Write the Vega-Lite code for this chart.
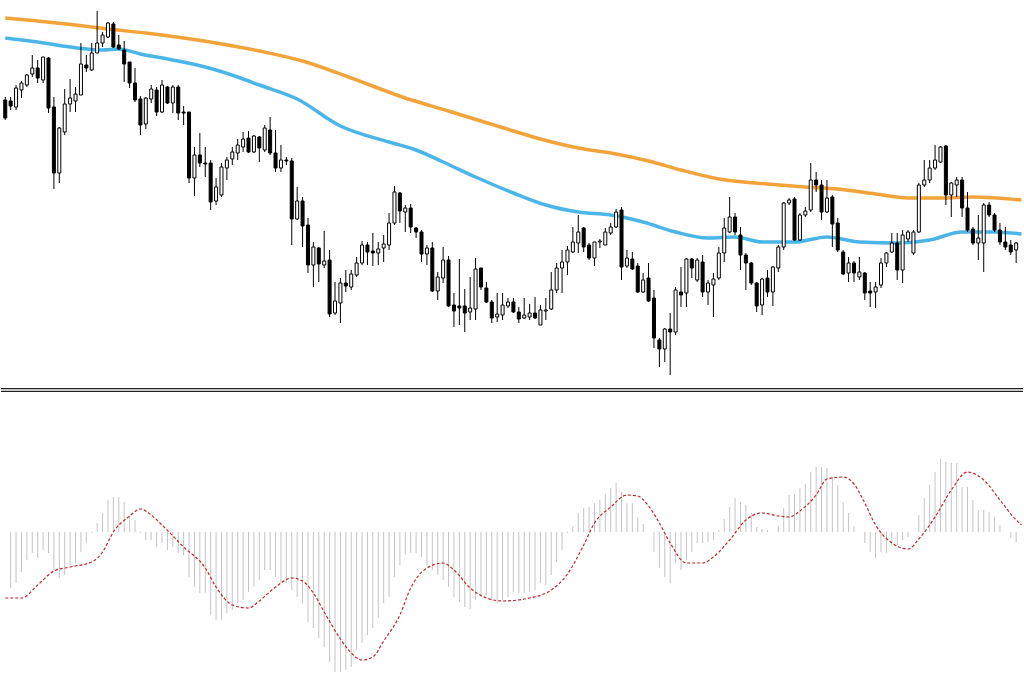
{
"$schema":"https://vega.github.io/schema/vega-lite/v6.json",
"width":1024,"height":683,"padding":0,
"autosize":{"type":"fit","contains":"padding"},
"background":"#ffffff",
"config":{"view":{"stroke":null}},
"datasets":{
"candles":[
{"i":-1,"o":1.1900,"h":1.1903,"l":1.1880,"c":1.1882},
{"i":0,"o":1.1899,"h":1.1903,"l":1.1890,"c":1.1894},
{"i":1,"o":1.1893,"h":1.1915,"l":1.1890,"c":1.1912},
{"i":2,"o":1.1910,"h":1.1919,"l":1.1902,"c":1.1917},
{"i":3,"o":1.1915,"h":1.1926,"l":1.1913,"c":1.1925},
{"i":4,"o":1.1926,"h":1.1945,"l":1.1923,"c":1.1932},
{"i":5,"o":1.1932,"h":1.1940,"l":1.1917,"c":1.1922},
{"i":6,"o":1.1920,"h":1.1943,"l":1.1917,"c":1.1943},
{"i":7,"o":1.1942,"h":1.1943,"l":1.1887,"c":1.1892},
{"i":8,"o":1.1893,"h":1.1903,"l":1.1811,"c":1.1827},
{"i":9,"o":1.1827,"h":1.1873,"l":1.1817,"c":1.1872},
{"i":10,"o":1.1868,"h":1.1911,"l":1.1865,"c":1.1896},
{"i":11,"o":1.1896,"h":1.1921,"l":1.1888,"c":1.1902},
{"i":12,"o":1.1899,"h":1.1913,"l":1.1888,"c":1.1906},
{"i":13,"o":1.1905,"h":1.1957,"l":1.1905,"c":1.1936},
{"i":14,"o":1.1935,"h":1.1945,"l":1.1928,"c":1.1932},
{"i":15,"o":1.1930,"h":1.1957,"l":1.1929,"c":1.1947},
{"i":16,"o":1.1947,"h":1.1989,"l":1.1947,"c":1.1957},
{"i":17,"o":1.1957,"h":1.1968,"l":1.1953,"c":1.1965},
{"i":18,"o":1.1963,"h":1.1978,"l":1.1962,"c":1.1977},
{"i":19,"o":1.1976,"h":1.1978,"l":1.1952,"c":1.1953},
{"i":20,"o":1.1955,"h":1.1965,"l":1.1950,"c":1.1951},
{"i":21,"o":1.1950,"h":1.1959,"l":1.1918,"c":1.1936},
{"i":22,"o":1.1938,"h":1.1938,"l":1.1912,"c":1.1917},
{"i":23,"o":1.1917,"h":1.1932,"l":1.1898,"c":1.1900},
{"i":24,"o":1.1901,"h":1.1904,"l":1.1865,"c":1.1875},
{"i":25,"o":1.1876,"h":1.1903,"l":1.1871,"c":1.1902},
{"i":26,"o":1.1901,"h":1.1915,"l":1.1897,"c":1.1911},
{"i":27,"o":1.1910,"h":1.1913,"l":1.1884,"c":1.1888},
{"i":28,"o":1.1888,"h":1.1920,"l":1.1887,"c":1.1915},
{"i":29,"o":1.1913,"h":1.1914,"l":1.1896,"c":1.1897},
{"i":30,"o":1.1897,"h":1.1915,"l":1.1887,"c":1.1913},
{"i":31,"o":1.1913,"h":1.1915,"l":1.1880,"c":1.1887},
{"i":32,"o":1.1888,"h":1.1894,"l":1.1875,"c":1.1887},
{"i":33,"o":1.1888,"h":1.1888,"l":1.1817,"c":1.1822},
{"i":34,"o":1.1822,"h":1.1853,"l":1.1804,"c":1.1845},
{"i":35,"o":1.1845,"h":1.1867,"l":1.1833,"c":1.1837},
{"i":36,"o":1.1837,"h":1.1853,"l":1.1823,"c":1.1836},
{"i":37,"o":1.1837,"h":1.1840,"l":1.1790,"c":1.1798},
{"i":38,"o":1.1799,"h":1.1822,"l":1.1795,"c":1.1813},
{"i":39,"o":1.1805,"h":1.1837,"l":1.1803,"c":1.1833},
{"i":40,"o":1.1832,"h":1.1843,"l":1.1820,"c":1.1840},
{"i":41,"o":1.1841,"h":1.1853,"l":1.1835,"c":1.1848},
{"i":42,"o":1.1847,"h":1.1861,"l":1.1840,"c":1.1855},
{"i":43,"o":1.1853,"h":1.1868,"l":1.1848,"c":1.1861},
{"i":44,"o":1.1862,"h":1.1869,"l":1.1847,"c":1.1848},
{"i":45,"o":1.1848,"h":1.1865,"l":1.1847,"c":1.1864},
{"i":46,"o":1.1863,"h":1.1864,"l":1.1838,"c":1.1852},
{"i":47,"o":1.1850,"h":1.1875,"l":1.1848,"c":1.1872},
{"i":48,"o":1.1870,"h":1.1883,"l":1.1845,"c":1.1847},
{"i":49,"o":1.1847,"h":1.1870,"l":1.1828,"c":1.1832},
{"i":50,"o":1.1832,"h":1.1855,"l":1.1828,"c":1.1840},
{"i":51,"o":1.1840,"h":1.1843,"l":1.1835,"c":1.1839},
{"i":52,"o":1.1839,"h":1.1842,"l":1.1755,"c":1.1781},
{"i":53,"o":1.1781,"h":1.1813,"l":1.1780,"c":1.1799},
{"i":54,"o":1.1799,"h":1.1803,"l":1.1753,"c":1.1774},
{"i":55,"o":1.1775,"h":1.1782,"l":1.1727,"c":1.1735},
{"i":56,"o":1.1735,"h":1.1758,"l":1.1713,"c":1.1753},
{"i":57,"o":1.1752,"h":1.1753,"l":1.1718,"c":1.1736},
{"i":58,"o":1.1735,"h":1.1769,"l":1.1732,"c":1.1739},
{"i":59,"o":1.1740,"h":1.1750,"l":1.1683,"c":1.1686},
{"i":60,"o":1.1687,"h":1.1718,"l":1.1685,"c":1.1699},
{"i":61,"o":1.1697,"h":1.1722,"l":1.1677,"c":1.1717},
{"i":62,"o":1.1717,"h":1.1730,"l":1.1708,"c":1.1714},
{"i":63,"o":1.1713,"h":1.1730,"l":1.1710,"c":1.1726},
{"i":64,"o":1.1725,"h":1.1743,"l":1.1723,"c":1.1737},
{"i":65,"o":1.1737,"h":1.1759,"l":1.1735,"c":1.1755},
{"i":66,"o":1.1755,"h":1.1758,"l":1.1735,"c":1.1748},
{"i":67,"o":1.1749,"h":1.1767,"l":1.1734,"c":1.1747},
{"i":68,"o":1.1747,"h":1.1758,"l":1.1735,"c":1.1751},
{"i":69,"o":1.1752,"h":1.1765,"l":1.1738,"c":1.1756},
{"i":70,"o":1.1755,"h":1.1787,"l":1.1750,"c":1.1777},
{"i":71,"o":1.1777,"h":1.1814,"l":1.1775,"c":1.1808},
{"i":72,"o":1.1807,"h":1.1808,"l":1.1777,"c":1.1789},
{"i":73,"o":1.1788,"h":1.1795,"l":1.1768,"c":1.1792},
{"i":74,"o":1.1792,"h":1.1796,"l":1.1767,"c":1.1773},
{"i":75,"o":1.1772,"h":1.1773,"l":1.1762,"c":1.1768},
{"i":76,"o":1.1768,"h":1.1770,"l":1.1738,"c":1.1746},
{"i":77,"o":1.1746,"h":1.1755,"l":1.1735,"c":1.1752},
{"i":78,"o":1.1752,"h":1.1758,"l":1.1708,"c":1.1709},
{"i":79,"o":1.1709,"h":1.1728,"l":1.1700,"c":1.1723},
{"i":80,"o":1.1722,"h":1.1753,"l":1.1717,"c":1.1740},
{"i":81,"o":1.1740,"h":1.1744,"l":1.1693,"c":1.1694},
{"i":82,"o":1.1695,"h":1.1707,"l":1.1673,"c":1.1689},
{"i":83,"o":1.1694,"h":1.1741,"l":1.1675,"c":1.1692},
{"i":84,"o":1.1694,"h":1.1711,"l":1.1668,"c":1.1687},
{"i":85,"o":1.1688,"h":1.1723,"l":1.1680,"c":1.1692},
{"i":86,"o":1.1691,"h":1.1742,"l":1.1680,"c":1.1731},
{"i":87,"o":1.1732,"h":1.1732,"l":1.1710,"c":1.1713},
{"i":88,"o":1.1712,"h":1.1718,"l":1.1697,"c":1.1698},
{"i":89,"o":1.1698,"h":1.1700,"l":1.1677,"c":1.1682},
{"i":90,"o":1.1683,"h":1.1707,"l":1.1678,"c":1.1686},
{"i":91,"o":1.1685,"h":1.1707,"l":1.1680,"c":1.1695},
{"i":92,"o":1.1694,"h":1.1702,"l":1.1692,"c":1.1698},
{"i":93,"o":1.1698,"h":1.1702,"l":1.1687,"c":1.1688},
{"i":94,"o":1.1688,"h":1.1693,"l":1.1677,"c":1.1681},
{"i":95,"o":1.1682,"h":1.1702,"l":1.1681,"c":1.1685},
{"i":96,"o":1.1683,"h":1.1696,"l":1.1680,"c":1.1687},
{"i":97,"o":1.1687,"h":1.1703,"l":1.1681,"c":1.1682},
{"i":98,"o":1.1675,"h":1.1695,"l":1.1675,"c":1.1690},
{"i":99,"o":1.1689,"h":1.1702,"l":1.1680,"c":1.1690},
{"i":100,"o":1.1691,"h":1.1728,"l":1.1690,"c":1.1710},
{"i":101,"o":1.1710,"h":1.1737,"l":1.1707,"c":1.1732},
{"i":102,"o":1.1732,"h":1.1750,"l":1.1707,"c":1.1738},
{"i":103,"o":1.1738,"h":1.1754,"l":1.1725,"c":1.1750},
{"i":104,"o":1.1748,"h":1.1773,"l":1.1747,"c":1.1758},
{"i":105,"o":1.1757,"h":1.1785,"l":1.1747,"c":1.1768},
{"i":106,"o":1.1772,"h":1.1773,"l":1.1748,"c":1.1753},
{"i":107,"o":1.1755,"h":1.1757,"l":1.1740,"c":1.1742},
{"i":108,"o":1.1742,"h":1.1758,"l":1.1734,"c":1.1758},
{"i":109,"o":1.1758,"h":1.1761,"l":1.1752,"c":1.1759},
{"i":110,"o":1.1755,"h":1.1772,"l":1.1755,"c":1.1768},
{"i":111,"o":1.1767,"h":1.1777,"l":1.1765,"c":1.1773},
{"i":112,"o":1.1773,"h":1.1791,"l":1.1772,"c":1.1788},
{"i":113,"o":1.1790,"h":1.1793,"l":1.1720,"c":1.1733},
{"i":114,"o":1.1734,"h":1.1750,"l":1.1732,"c":1.1742},
{"i":115,"o":1.1741,"h":1.1748,"l":1.1730,"c":1.1731},
{"i":116,"o":1.1734,"h":1.1737,"l":1.1707,"c":1.1708},
{"i":117,"o":1.1708,"h":1.1727,"l":1.1707,"c":1.1720},
{"i":118,"o":1.1722,"h":1.1737,"l":1.1698,"c":1.1699},
{"i":119,"o":1.1702,"h":1.1710,"l":1.1652,"c":1.1662},
{"i":120,"o":1.1660,"h":1.1662,"l":1.1633,"c":1.1651},
{"i":121,"o":1.1651,"h":1.1672,"l":1.1638,"c":1.1671},
{"i":122,"o":1.1671,"h":1.1687,"l":1.1625,"c":1.1668},
{"i":123,"o":1.1668,"h":1.1713,"l":1.1665,"c":1.1710},
{"i":124,"o":1.1708,"h":1.1733,"l":1.1693,"c":1.1705},
{"i":125,"o":1.1707,"h":1.1742,"l":1.1693,"c":1.1741},
{"i":126,"o":1.1741,"h":1.1742,"l":1.1722,"c":1.1732},
{"i":127,"o":1.1720,"h":1.1742,"l":1.1718,"c":1.1740},
{"i":128,"o":1.1738,"h":1.1745,"l":1.1703,"c":1.1708},
{"i":129,"o":1.1708,"h":1.1720,"l":1.1695,"c":1.1717},
{"i":130,"o":1.1715,"h":1.1727,"l":1.1683,"c":1.1721},
{"i":131,"o":1.1722,"h":1.1753,"l":1.1720,"c":1.1747},
{"i":132,"o":1.1747,"h":1.1782,"l":1.1738,"c":1.1772},
{"i":133,"o":1.1768,"h":1.1803,"l":1.1767,"c":1.1783},
{"i":134,"o":1.1783,"h":1.1787,"l":1.1765,"c":1.1768},
{"i":135,"o":1.1765,"h":1.1773,"l":1.1730,"c":1.1745},
{"i":136,"o":1.1745,"h":1.1747,"l":1.1710,"c":1.1737},
{"i":137,"o":1.1737,"h":1.1738,"l":1.1715,"c":1.1717},
{"i":138,"o":1.1717,"h":1.1718,"l":1.1688,"c":1.1694},
{"i":139,"o":1.1695,"h":1.1722,"l":1.1685,"c":1.1721},
{"i":140,"o":1.1722,"h":1.1730,"l":1.1703,"c":1.1708},
{"i":141,"o":1.1708,"h":1.1734,"l":1.1694,"c":1.1733},
{"i":142,"o":1.1732,"h":1.1755,"l":1.1728,"c":1.1753},
{"i":143,"o":1.1753,"h":1.1798,"l":1.1750,"c":1.1797},
{"i":144,"o":1.1797,"h":1.1802,"l":1.1795,"c":1.1800},
{"i":145,"o":1.1801,"h":1.1803,"l":1.1759,"c":1.1760},
{"i":146,"o":1.1760,"h":1.1787,"l":1.1759,"c":1.1785},
{"i":147,"o":1.1785,"h":1.1793,"l":1.1783,"c":1.1789},
{"i":148,"o":1.1790,"h":1.1837,"l":1.1788,"c":1.1820},
{"i":149,"o":1.1820,"h":1.1828,"l":1.1808,"c":1.1815},
{"i":150,"o":1.1815,"h":1.1820,"l":1.1780,"c":1.1788},
{"i":151,"o":1.1788,"h":1.1820,"l":1.1787,"c":1.1802},
{"i":152,"o":1.1803,"h":1.1805,"l":1.1753,"c":1.1776},
{"i":153,"o":1.1777,"h":1.1782,"l":1.1748,"c":1.1750},
{"i":154,"o":1.1748,"h":1.1750,"l":1.1725,"c":1.1726},
{"i":155,"o":1.1727,"h":1.1743,"l":1.1718,"c":1.1737},
{"i":156,"o":1.1737,"h":1.1739,"l":1.1718,"c":1.1727},
{"i":157,"o":1.1723,"h":1.1743,"l":1.1720,"c":1.1728},
{"i":158,"o":1.1727,"h":1.1728,"l":1.1700,"c":1.1707},
{"i":159,"o":1.1709,"h":1.1718,"l":1.1693,"c":1.1707},
{"i":160,"o":1.1708,"h":1.1718,"l":1.1692,"c":1.1713},
{"i":161,"o":1.1715,"h":1.1742,"l":1.1712,"c":1.1737},
{"i":162,"o":1.1737,"h":1.1748,"l":1.1733,"c":1.1747},
{"i":163,"o":1.1748,"h":1.1767,"l":1.1747,"c":1.1757},
{"i":164,"o":1.1757,"h":1.1767,"l":1.1720,"c":1.1730},
{"i":165,"o":1.1730,"h":1.1770,"l":1.1717,"c":1.1765},
{"i":166,"o":1.1761,"h":1.1770,"l":1.1758,"c":1.1768},
{"i":167,"o":1.1747,"h":1.1770,"l":1.1745,"c":1.1768},
{"i":168,"o":1.1768,"h":1.1817,"l":1.1767,"c":1.1815},
{"i":169,"o":1.1815,"h":1.1840,"l":1.1813,"c":1.1820},
{"i":170,"o":1.1820,"h":1.1840,"l":1.1817,"c":1.1832},
{"i":171,"o":1.1832,"h":1.1855,"l":1.1830,"c":1.1840},
{"i":172,"o":1.1838,"h":1.1854,"l":1.1837,"c":1.1853},
{"i":173,"o":1.1854,"h":1.1855,"l":1.1795,"c":1.1805},
{"i":174,"o":1.1805,"h":1.1818,"l":1.1783,"c":1.1817},
{"i":175,"o":1.1815,"h":1.1823,"l":1.1803,"c":1.1820},
{"i":176,"o":1.1820,"h":1.1823,"l":1.1783,"c":1.1792},
{"i":177,"o":1.1792,"h":1.1808,"l":1.1768,"c":1.1770},
{"i":178,"o":1.1771,"h":1.1773,"l":1.1755,"c":1.1757},
{"i":179,"o":1.1757,"h":1.1785,"l":1.1740,"c":1.1762},
{"i":180,"o":1.1757,"h":1.1797,"l":1.1728,"c":1.1795},
{"i":181,"o":1.1795,"h":1.1798,"l":1.1783,"c":1.1785},
{"i":182,"o":1.1785,"h":1.1787,"l":1.1768,"c":1.1770},
{"i":183,"o":1.1770,"h":1.1777,"l":1.1755,"c":1.1758},
{"i":184,"o":1.1758,"h":1.1773,"l":1.1750,"c":1.1753},
{"i":185,"o":1.1755,"h":1.1760,"l":1.1745,"c":1.1748},
{"i":186,"o":1.1750,"h":1.1758,"l":1.1737,"c":1.1757}
],
"ma":[
{"k":"slow","i":-1,"p":1.1982},{"k":"slow","i":5,"p":1.1979},{"k":"slow","i":12,"p":1.1975},{"k":"slow","i":18,"p":1.1971},{"k":"slow","i":25,"p":1.1967},{"k":"slow","i":32,"p":1.1962},{"k":"slow","i":38,"p":1.1957},{"k":"slow","i":46,"p":1.1949},{"k":"slow","i":54,"p":1.1939},{"k":"slow","i":63,"p":1.1922},{"k":"slow","i":73,"p":1.1902},{"k":"slow","i":81,"p":1.1889},{"k":"slow","i":93,"p":1.1869},{"k":"slow","i":98,"p":1.1861},{"k":"slow","i":105,"p":1.1852},{"k":"slow","i":111,"p":1.1847},{"k":"slow","i":118,"p":1.1839},{"k":"slow","i":124,"p":1.1830},{"k":"slow","i":131,"p":1.1821},{"k":"slow","i":140,"p":1.1816},{"k":"slow","i":147,"p":1.1813},{"k":"slow","i":153,"p":1.1811},{"k":"slow","i":160,"p":1.1806},{"k":"slow","i":166,"p":1.1802},{"k":"slow","i":172,"p":1.1802},{"k":"slow","i":178,"p":1.1803},{"k":"slow","i":187,"p":1.1800},
{"k":"fast","i":-1,"p":1.1962},{"k":"fast","i":5,"p":1.1958},{"k":"fast","i":11,"p":1.1953},{"k":"fast","i":17,"p":1.1950},{"k":"fast","i":20,"p":1.1951},{"k":"fast","i":24,"p":1.1946},{"k":"fast","i":30,"p":1.1940},{"k":"fast","i":36,"p":1.1933},{"k":"fast","i":42,"p":1.1923},{"k":"fast","i":46,"p":1.1915},{"k":"fast","i":53,"p":1.1901},{"k":"fast","i":61,"p":1.1874},{"k":"fast","i":70,"p":1.1858},{"k":"fast","i":75,"p":1.1850},{"k":"fast","i":80,"p":1.1838},{"k":"fast","i":86,"p":1.1823},{"k":"fast","i":93,"p":1.1807},{"k":"fast","i":99,"p":1.1795},{"k":"fast","i":105,"p":1.1788},{"k":"fast","i":111,"p":1.1785},{"k":"fast","i":117,"p":1.1778},{"k":"fast","i":123,"p":1.1768},{"k":"fast","i":129,"p":1.1762},{"k":"fast","i":134,"p":1.1763},{"k":"fast","i":139,"p":1.1758},{"k":"fast","i":145,"p":1.1758},{"k":"fast","i":151,"p":1.1763},{"k":"fast","i":157,"p":1.1758},{"k":"fast","i":164,"p":1.1757},{"k":"fast","i":170,"p":1.1760},{"k":"fast","i":176,"p":1.1768},{"k":"fast","i":182,"p":1.1768},{"k":"fast","i":187,"p":1.1766}
],
"hist":[
{"i":0,"v":-0.00056},{"i":1,"v":-0.00051},{"i":2,"v":-0.0004},{"i":3,"v":-0.00028},{"i":4,"v":-0.00021},{"i":5,"v":-0.00026},{"i":6,"v":-0.00018},{"i":7,"v":-0.00021},{"i":8,"v":-0.00038},{"i":9,"v":-0.00046},
{"i":10,"v":-0.00043},{"i":11,"v":-0.00033},{"i":12,"v":-0.00031},{"i":13,"v":-0.0002},{"i":14,"v":-0.00011},{"i":15,"v":-0.00001},{"i":16,"v":0.00009},{"i":17,"v":0.00019},{"i":18,"v":0.00032},{"i":19,"v":0.00035},
{"i":20,"v":0.00035},{"i":21,"v":0.0003},{"i":22,"v":0.00015},{"i":23,"v":0.00012},{"i":24,"v":-0.00001},{"i":25,"v":-0.00008},{"i":26,"v":-0.00008},{"i":27,"v":-0.00015},{"i":28,"v":-0.00011},{"i":29,"v":-0.00018},
{"i":30,"v":-0.00015},{"i":31,"v":-0.00021},{"i":32,"v":-0.00023},{"i":33,"v":-0.00045},{"i":34,"v":-0.00055},{"i":35,"v":-0.00061},{"i":36,"v":-0.00061},{"i":37,"v":-0.00083},{"i":38,"v":-0.00088},{"i":39,"v":-0.00088},
{"i":40,"v":-0.00081},{"i":41,"v":-0.00078},{"i":42,"v":-0.00071},{"i":43,"v":-0.00068},{"i":44,"v":-0.0006},{"i":45,"v":-0.00055},{"i":46,"v":-0.00048},{"i":47,"v":-0.00038},{"i":48,"v":-0.00038},{"i":49,"v":-0.00045},
{"i":50,"v":-0.00051},{"i":51,"v":-0.00051},{"i":52,"v":-0.00058},{"i":53,"v":-0.00065},{"i":54,"v":-0.00071},{"i":55,"v":-0.0009},{"i":56,"v":-0.00096},{"i":57,"v":-0.00106},{"i":58,"v":-0.00115},{"i":59,"v":-0.0013},
{"i":60,"v":-0.0014},{"i":61,"v":-0.0014},{"i":62,"v":-0.00138},{"i":63,"v":-0.00135},{"i":64,"v":-0.00118},{"i":65,"v":-0.00111},{"i":66,"v":-0.00103},{"i":67,"v":-0.00096},{"i":68,"v":-0.00086},{"i":69,"v":-0.00071},
{"i":70,"v":-0.00065},{"i":71,"v":-0.00045},{"i":72,"v":-0.00033},{"i":73,"v":-0.00023},{"i":74,"v":-0.00021},{"i":75,"v":-0.00021},{"i":76,"v":-0.00025},{"i":77,"v":-0.00033},{"i":78,"v":-0.00038},{"i":79,"v":-0.00043},
{"i":80,"v":-0.00048},{"i":81,"v":-0.00055},{"i":82,"v":-0.00065},{"i":83,"v":-0.0007},{"i":84,"v":-0.00075},{"i":85,"v":-0.00077},{"i":86,"v":-0.00068},{"i":87,"v":-0.00065},{"i":88,"v":-0.00063},{"i":89,"v":-0.00068},
{"i":90,"v":-0.00071},{"i":91,"v":-0.00068},{"i":92,"v":-0.00065},{"i":93,"v":-0.0006},{"i":94,"v":-0.00061},{"i":95,"v":-0.00061},{"i":96,"v":-0.0006},{"i":97,"v":-0.00058},{"i":98,"v":-0.00051},{"i":99,"v":-0.00053},
{"i":100,"v":-0.00043},{"i":101,"v":-0.0003},{"i":102,"v":-0.00018},{"i":103,"v":-0.00001},{"i":104,"v":0.00006},{"i":105,"v":0.00019},{"i":106,"v":0.00024},{"i":107,"v":0.00025},{"i":108,"v":0.00029},{"i":109,"v":0.00032},
{"i":110,"v":0.00038},{"i":111,"v":0.00044},{"i":112,"v":0.00049},{"i":113,"v":0.0004},{"i":114,"v":0.00029},{"i":115,"v":0.00029},{"i":116,"v":0.00015},{"i":117,"v":0.00008},{"i":118,"v":0},{"i":119,"v":-0.0002},
{"i":120,"v":-0.00036},{"i":121,"v":-0.00045},{"i":122,"v":-0.00051},{"i":123,"v":-0.00031},{"i":124,"v":-0.00038},{"i":125,"v":-0.00028},{"i":126,"v":-0.0002},{"i":127,"v":-0.00011},{"i":128,"v":-0.00011},{"i":129,"v":-0.0001},
{"i":130,"v":-0.00008},{"i":131,"v":0.00002},{"i":132,"v":0.00013},{"i":133,"v":0.00025},{"i":134,"v":0.00034},{"i":135,"v":0.0003},{"i":136,"v":0.00027},{"i":137,"v":0.00019},{"i":138,"v":0.00005},{"i":139,"v":0.00003},
{"i":140,"v":0.00002},{"i":141,"v":0},{"i":142,"v":0.00006},{"i":143,"v":0.00024},{"i":144,"v":0.00037},{"i":145,"v":0.00038},{"i":146,"v":0.00044},{"i":147,"v":0.00048},{"i":148,"v":0.0006},{"i":149,"v":0.00065},
{"i":150,"v":0.00065},{"i":151,"v":0.00064},{"i":152,"v":0.00055},{"i":153,"v":0.00047},{"i":154,"v":0.0003},{"i":155,"v":0.00019},{"i":156,"v":0.00006},{"i":157,"v":0},{"i":158,"v":-0.00011},{"i":159,"v":-0.0002},
{"i":160,"v":-0.00026},{"i":161,"v":-0.0002},{"i":162,"v":-0.00021},{"i":163,"v":-0.00013},{"i":164,"v":-0.00013},{"i":165,"v":-0.00008},{"i":166,"v":-0.00005},{"i":167,"v":0},{"i":168,"v":0.00017},{"i":169,"v":0.00034},
{"i":170,"v":0.00047},{"i":171,"v":0.0006},{"i":172,"v":0.00073},{"i":173,"v":0.0007},{"i":174,"v":0.00069},{"i":175,"v":0.00069},{"i":176,"v":0.00045},{"i":177,"v":0.00045},{"i":178,"v":0.00032},{"i":179,"v":0.00022},
{"i":180,"v":0.00022},{"i":181,"v":0.0002},{"i":182,"v":0.00015},{"i":183,"v":0.00007},{"i":184,"v":0},{"i":185,"v":-0.00006},{"i":186,"v":-0.0001}
],
"signal":[
{"i":-1,"s":-0.00066},{"i":2,"s":-0.00066},{"i":5,"s":-0.00053},{"i":8,"s":-0.00039},{"i":11,"s":-0.00035},{"i":15,"s":-0.0003},{"i":17,"s":-0.0002},{"i":19,"s":0},{"i":22,"s":0.00016},{"i":24,"s":0.00023},{"i":26,"s":0.00017},{"i":28,"s":0.00007},{"i":32,"s":-0.00015},{"i":36,"s":-0.00036},{"i":38,"s":-0.00055},{"i":41,"s":-0.00073},{"i":44,"s":-0.00076},{"i":46,"s":-0.00069},{"i":49,"s":-0.00055},{"i":52,"s":-0.00046},{"i":54,"s":-0.00049},{"i":56,"s":-0.00061},{"i":58,"s":-0.0008},{"i":61,"s":-0.00107},{"i":63,"s":-0.00121},{"i":65,"s":-0.00128},{"i":67,"s":-0.00125},{"i":69,"s":-0.00109},{"i":72,"s":-0.00083},{"i":74,"s":-0.00056},{"i":77,"s":-0.00036},{"i":80,"s":-0.00031},{"i":82,"s":-0.00038},{"i":85,"s":-0.00056},{"i":88,"s":-0.00066},{"i":91,"s":-0.00069},{"i":96,"s":-0.00066},{"i":100,"s":-0.00058},{"i":103,"s":-0.00042},{"i":106,"s":-0.00013},{"i":108,"s":0.00009},{"i":111,"s":0.00025},{"i":114,"s":0.00037},{"i":116,"s":0.00036},{"i":118,"s":0.00026},{"i":120,"s":0.00009},{"i":122,"s":-0.00011},{"i":125,"s":-0.00031},{"i":128,"s":-0.00031},{"i":130,"s":-0.00025},{"i":133,"s":-0.00008},{"i":136,"s":0.00012},{"i":139,"s":0.00019},{"i":142,"s":0.00016},{"i":144,"s":0.00015},{"i":146,"s":0.00021},{"i":149,"s":0.00037},{"i":151,"s":0.00053},{"i":154,"s":0.00055},{"i":156,"s":0.00048},{"i":158,"s":0.00029},{"i":160,"s":0.00007},{"i":163,"s":-0.00011},{"i":166,"s":-0.00017},{"i":168,"s":-0.00007},{"i":171,"s":0.00015},{"i":174,"s":0.00042},{"i":177,"s":0.0006},{"i":180,"s":0.00052},{"i":183,"s":0.00032},{"i":186,"s":0.00012},{"i":187,"s":0.00007}
]
},
"layer":[
{
"layer":[
{"data":{"name":"ma"},"mark":{"type":"line","strokeWidth":3.5,"interpolate":"monotone","clip":true},
"encoding":{"x":{"field":"i","type":"quantitative","scale":{"domain":[-0.86,186.34],"nice":false,"zero":false},"axis":null},
"y":{"field":"p","type":"quantitative","scale":{"domain":[1.1317,1.2],"nice":false,"zero":false},"axis":null},
"color":{"field":"k","type":"nominal","scale":{"domain":["slow","fast"],"range":["#F2A33A","#4AB6E8"]},"legend":null}}},
{"data":{"name":"candles"},"mark":{"type":"rule","color":"#000000","strokeWidth":1,"clip":true},
"encoding":{"x":{"field":"i","type":"quantitative"},"y":{"field":"l","type":"quantitative"},"y2":{"field":"h"}}},
{"data":{"name":"candles"},"mark":{"type":"bar","orient":"vertical","size":3,"stroke":"#000000","strokeWidth":1,"clip":true},
"encoding":{"x":{"field":"i","type":"quantitative"},"y":{"field":"o","type":"quantitative"},"y2":{"field":"c"},
"fill":{"condition":{"test":"datum.c > datum.o","value":"#ffffff"},"value":"#000000"}}},
{"data":{"values":[{"p":1.16115}]},"mark":{"type":"rule","color":"#222222","strokeWidth":1.2},
"encoding":{"y":{"field":"p","type":"quantitative"}}},
{"data":{"values":[{"p":1.1610}]},"mark":{"type":"rule","color":"#b4b4b4","strokeWidth":1.4},
"encoding":{"y":{"field":"p","type":"quantitative"}}},
{"data":{"values":[{"p":1.16085}]},"mark":{"type":"rule","color":"#222222","strokeWidth":1.2},
"encoding":{"y":{"field":"p","type":"quantitative"}}}
]
},
{
"layer":[
{"data":{"name":"hist"},"mark":{"type":"rule","color":"#c4c4c4","strokeWidth":1},
"encoding":{"x":{"field":"i","type":"quantitative"},
"y":{"field":"v","type":"quantitative","scale":{"domain":[-0.00151,0.00532],"nice":false,"zero":false},"axis":null},"y2":{"datum":0}}},
{"data":{"name":"signal"},"mark":{"type":"line","color":"#C0272D","strokeWidth":1.2,"strokeDash":[3,2],"interpolate":"monotone","clip":true},
"encoding":{"x":{"field":"i","type":"quantitative"},"y":{"field":"s","type":"quantitative"}}}
]
}
],
"resolve":{"scale":{"y":"independent"}}
}
